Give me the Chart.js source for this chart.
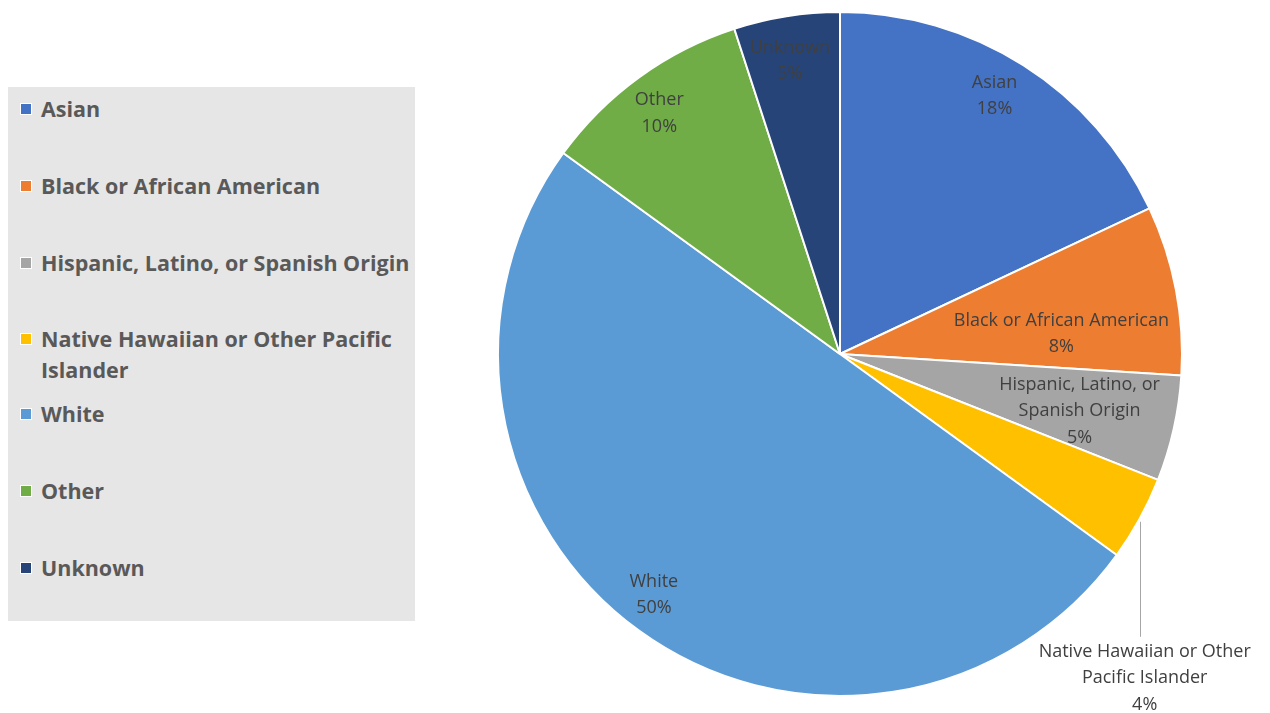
<!DOCTYPE html>
<html>
<head>
<meta charset="utf-8">
<script src="https://cdn.jsdelivr.net/npm/chart.js@4.4.1/dist/chart.umd.min.js"></script>
<style>
  html, body { margin: 0; padding: 0; background: #ffffff; }
  #wrap { position: relative; width: 1270px; height: 713px; }
  #pie { position: absolute; left: 0; top: 0; }
  #legend {
    position: absolute; left: 8px; top: 87px; width: 407px; height: 534px;
    background: #e7e6e6; font-family: "Open Sans", sans-serif; font-weight: bold;
    font-size: 21.5px; color: #595959; overflow: hidden;
  }
  .item { position: absolute; left: 12px; right: 0; line-height: 31px; }
  .sw { position: absolute; left: 0; top: 10px; width: 10px; height: 10px; border: 1px solid #fff; }
  .lt { position: absolute; left: 21px; white-space: nowrap; }
</style>
</head>
<body>
<div id="wrap">
  <canvas id="pie" width="1270" height="713"></canvas>
  <div id="legend"></div>
</div>
<script>
// Race / ethnicity breakdown, percent of total
const categories = [
  "Asian",
  "Black or African American",
  "Hispanic, Latino, or Spanish Origin",
  "Native Hawaiian or Other Pacific Islander",
  "White",
  "Other",
  "Unknown"
];
const percentages = [18, 8, 5, 4, 50, 10, 5];
const sliceColors = ["#4472c4", "#ed7d31", "#a5a5a5", "#ffc000", "#5b9bd5", "#70ad47", "#264478"];

// How each data label is broken into lines inside / beside its slice
const labelLines = [
  ["Asian"],
  ["Black or African American"],
  ["Hispanic, Latino, or", "Spanish Origin"],
  ["Native Hawaiian or Other", "Pacific Islander"],
  ["White"],
  ["Other"],
  ["Unknown"]
];
// Legend text, wrapped the way the legend box shows it
const legendLines = [
  ["Asian"],
  ["Black or African American"],
  ["Hispanic, Latino, or Spanish Origin"],
  ["Native Hawaiian or Other Pacific", "Islander"],
  ["White"],
  ["Other"],
  ["Unknown"]
];

// Label placement: fraction of the radius, angle nudge (degrees), and whether it sits outside with a leader line
const labelRadius = [0.88, 0.65, 0.72, 1.0, 0.89, 0.88, 0.87];
const labelNudge = [-1.5, 5.6, 0.8, 0, 1.7, -0.9, -0.7];
const labelOutside = [false, false, false, true, false, false, false];

// Legend
const legendEl = document.getElementById('legend');
const legendTops = [6, 83, 160, 236, 311, 388, 465];
categories.forEach((c, i) => {
  const it = document.createElement('div');
  it.className = 'item';
  it.style.top = legendTops[i] + 'px';
  const sw = document.createElement('div');
  sw.className = 'sw';
  sw.style.background = sliceColors[i];
  it.appendChild(sw);
  const t = document.createElement('div');
  t.className = 'lt';
  t.innerHTML = legendLines[i].join('<br>');
  it.appendChild(t);
  legendEl.appendChild(it);
});

// Draws "category / nn%" labels for each arc
const sliceLabels = {
  id: 'sliceLabels',
  afterDatasetsDraw(chart) {
    const ctx = chart.ctx;
    const meta = chart.getDatasetMeta(0);
    ctx.save();
    ctx.font = '18px "Open Sans", sans-serif';
    ctx.fillStyle = '#404040';
    ctx.textAlign = 'center';
    ctx.textBaseline = 'middle';
    const lh = 26.5;
    meta.data.forEach((arc, i) => {
      const p = arc.getProps(['x', 'y', 'startAngle', 'endAngle', 'outerRadius'], true);
      const mid = (p.startAngle + p.endAngle) / 2 + labelNudge[i] * Math.PI / 180;
      const lines = labelLines[i].concat([percentages[i] + '%']);
      if (labelOutside[i]) {
        const ex = p.x + Math.cos(mid) * p.outerRadius;
        const ey = p.y + Math.sin(mid) * p.outerRadius;
        const endY = ey + 118;
        ctx.strokeStyle = '#a6a6a6';
        ctx.lineWidth = 1;
        ctx.beginPath();
        ctx.moveTo(Math.round(ex) + 0.5, ey + 3);
        ctx.lineTo(Math.round(ex) + 0.5, endY);
        ctx.stroke();
        const top = endY + 15;
        lines.forEach((s, k) => ctx.fillText(s, ex + 5, top + k * lh));
      } else {
        const r = p.outerRadius * labelRadius[i];
        const cx = p.x + Math.cos(mid) * r;
        const cy = p.y + Math.sin(mid) * r;
        const y0 = cy - (lines.length - 1) * lh / 2;
        lines.forEach((s, k) => ctx.fillText(s, cx, y0 + k * lh));
      }
    });
    ctx.restore();
  }
};

new Chart(document.getElementById('pie'), {
  type: 'pie',
  data: {
    labels: categories,
    datasets: [{
      data: percentages,
      backgroundColor: sliceColors,
      borderColor: '#ffffff',
      borderWidth: 2
    }]
  },
  options: {
    responsive: false,
    animation: false,
    layout: { padding: { left: 497, right: 87, top: 11, bottom: 16 } },
    plugins: {
      legend: { display: false },
      tooltip: { enabled: false }
    }
  },
  plugins: [sliceLabels]
});
</script>
</body>
</html>
